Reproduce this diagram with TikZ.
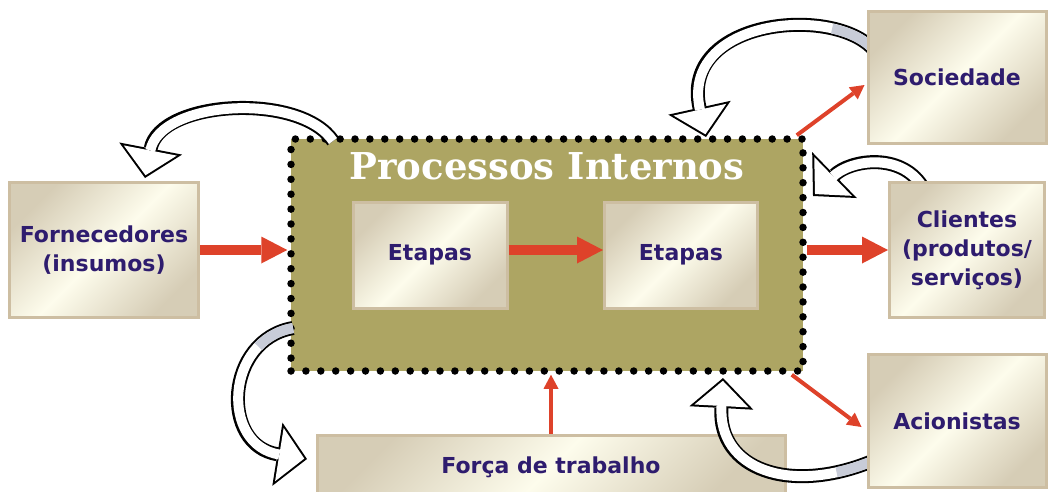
\documentclass[tikz,border=0pt]{standalone}
\usepackage{fontspec}
\setmainfont{DejaVu Sans}
\newfontfamily\titlefont{DejaVu Serif}
\usepackage{tikz}
\usetikzlibrary{arrows.meta}
\definecolor{Khaki}{RGB}{173,165,99}
\definecolor{Cream}{RGB}{253,252,236}
\definecolor{Tan}{RGB}{214,205,182}
\definecolor{BoxEdge}{RGB}{205,190,162}
\definecolor{Ink}{RGB}{46,28,110}
\definecolor{ArrowRed}{RGB}{222,66,42}
\definecolor{TailGrey}{RGB}{200,204,216}
\tikzset{Box/.style={rectangle,draw=BoxEdge,line width=3pt,inner sep=0pt,
    left color=Tan,right color=Tan,middle color=Cream,shading angle=45,
    text=Ink,font=\bfseries\fontsize{22}{29}\selectfont,align=center}}
\tikzset{Frame/.style={rectangle,fill=Khaki,draw=black,line width=7.5pt,
    line cap=round,dash pattern=on 0pt off 14.9pt,
    minimum width=512pt,minimum height=232pt}}
\tikzset{Title/.style={text=white,font=\titlefont\bfseries\fontsize{37}{37}\selectfont}}
\tikzset{FatArrow/.style={draw=ArrowRed,line width=10pt,
    -{Triangle[length=26pt,width=27pt,line width=0pt]}}}
\tikzset{ThinArrow/.style={draw=ArrowRed,line width=4pt,
    -{Triangle[length=14pt,width=15pt,line width=0pt]}}}
\tikzset{SwooshOut/.style={draw=black,line width=14pt,
    -{Triangle[length=30pt,width=64pt,line width=0pt]}}}
\tikzset{SwooshIn/.style={draw=white,line width=10pt,shorten >=2.8pt,
    -{Triangle[length=25.2pt,width=54pt,line width=0pt,color=white]}}}
\tikzset{SwooshTail/.style={draw=TailGrey,line width=10pt,dash pattern=on #1 off 2000pt}}
\newcommand{\Swoosh}[2][0pt]{\draw[SwooshOut]#2;\draw[SwooshIn]#2;
    \draw[SwooshTail=#1]#2;}

\begin{document}
\begin{tikzpicture}[x=1pt,y=-1pt]
    \useasboundingbox (0,0) rectangle (1048,491);
    % centre block
    \node[Frame](main)at(547,255){};
    \node[Title](title)at(547,166){Processos Internos};
    \node[Box,minimum width=154pt,minimum height=106pt](step1)at(430,255){Etapas};
    \node[Box,minimum width=153pt,minimum height=106pt](step2)at(681,255){Etapas};
    \draw[FatArrow]([yshift=5pt]step1.east)--([yshift=5pt]step2.west);
    \node[Box,minimum width=468pt,minimum height=64pt](forca)at(551,467)
        {Força de trabalho};
    % feedback swooshes
    \coordinate(a1s)at(333,141);
    \coordinate(a1e)at(145,178);
    \coordinate(a2s)at(872,48);
    \coordinate(a2e)at(706,137);
    \coordinate(a3s)at(922,186);
    \coordinate(a3e)at(813,196);
    \coordinate(a4s)at(293,328);
    \coordinate(a4e)at(307,459);
    \coordinate(a5s)at(870,462);
    \coordinate(a5e)at(723,378);
    \Swoosh{(a1s)..controls(300,92)and(160,100)..(a1e)}
    \Swoosh[45pt]{(a2s)..controls(830,5)and(680,20)..(a2e)}
    \Swoosh{(a3s)..controls(900,152)and(850,160)..(a3e)}
    \Swoosh[40pt]{(a4s)..controls(225,340)and(220,445)..(a4e)}
    \Swoosh[35pt]{(a5s)..controls(790,494)and(718,470)..(a5e)}
    % outer boxes
    \node[Box,minimum width=189pt,minimum height=135pt](forn)at(104,250)
        {Fornecedores\\(insumos)};
    \node[Box,minimum width=178pt,minimum height=132pt](soc)at(957,77){Sociedade};
    \node[Box,minimum width=155pt,minimum height=135pt](cli)at(967,250)
        {Clientes\\(produtos/\\serviços)};
    \node[Box,minimum width=178pt,minimum height=133pt](acion)at(957,421){Acionistas};
    % red links
    \draw[FatArrow](forn.east)--(forn.east-|main.west);
    \draw[FatArrow](main.east|-cli.west)--(cli.west);
    \draw[ThinArrow]([xshift=-10pt]main.north east)--([yshift=-8pt,xshift=-2pt]soc.west);
    \draw[ThinArrow]([xshift=-15pt]main.south east)--([yshift=-6pt,xshift=-5pt]acion.west);
    \draw[ThinArrow](forca.north)--(forca.north|-main.south);
\end{tikzpicture}
\end{document}
